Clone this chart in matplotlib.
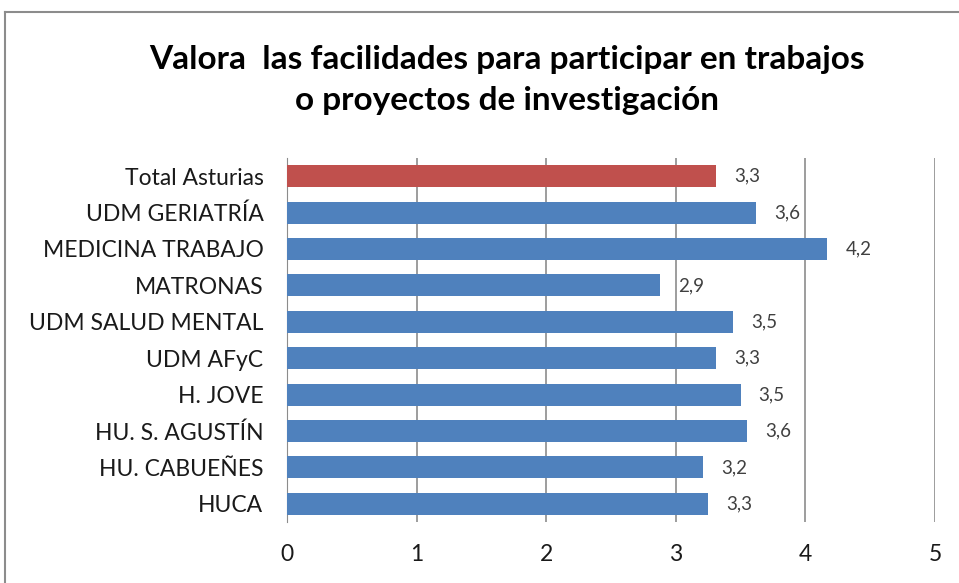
import matplotlib.pyplot as plt
from matplotlib.lines import Line2D

plt.rcParams['font.family'] = ['Lato', 'DejaVu Sans']

# --- Data (top to bottom as shown) ---
categories = [
    "Total Asturias", "UDM GERIATRÍA", "MEDICINA TRABAJO", "MATRONAS",
    "UDM SALUD MENTAL", "UDM AFyC", "H. JOVE", "HU. S. AGUSTÍN",
    "HU. CABUEÑES", "HUCA",
]
values = [3.31, 3.62, 4.17, 2.88, 3.44, 3.31, 3.50, 3.55, 3.21, 3.25]
labels = ["3,3", "3,6", "4,2", "2,9", "3,5", "3,3", "3,5", "3,6", "3,2", "3,3"]
colors = ["#C0504D"] + ["#4F81BD"] * 9

fig = plt.figure(figsize=(9.59, 5.83), dpi=100)
ax = fig.add_axes([287 / 959, 1 - 522 / 583, 648 / 959, 364 / 583])

ypos = list(range(len(categories)))
ax.barh(ypos, values, height=0.6, color=colors, zorder=3)

for y, v, lab in zip(ypos, values, labels):
    ax.annotate(lab, (v, y), xytext=(13, 0), textcoords="offset points",
                va="center", ha="left", fontsize=13.5, color="#404040")

ax.set_xlim(0, 5)
ax.set_ylim(len(categories) - 0.5, -0.5)
ax.set_yticks(ypos)
ax.set_yticklabels(categories, fontsize=16.5, color="#1a1a1a")
ax.set_xticks(range(6))
ax.tick_params(axis="x", labelsize=16.5, length=0, pad=16, colors="#1a1a1a")
ax.tick_params(axis="y", length=0, pad=17)

ax.grid(axis="x", color="#8c8c8c", linewidth=1.2, zorder=0)
for side in ["top", "right", "bottom"]:
    ax.spines[side].set_visible(False)
ax.spines["left"].set_color("#8c8c8c")

fig.text(507 / 959, 1 - 80 / 583,
         "Valora  las facilidades para participar en trabajos\no proyectos de investigación",
         ha="center", va="center", fontsize=24, fontweight="bold",
         linespacing=1.5)

# outer chart border (top and left visible)
fig.add_artist(Line2D([5 / 959, 5 / 959], [0, 1 - 12 / 583], transform=fig.transFigure,
                      color="#8c8c8c", linewidth=1.5))
fig.add_artist(Line2D([5 / 959, 1], [1 - 12 / 583, 1 - 12 / 583], transform=fig.transFigure,
                      color="#8c8c8c", linewidth=1.5))

fig.savefig("out.png", dpi=100)
